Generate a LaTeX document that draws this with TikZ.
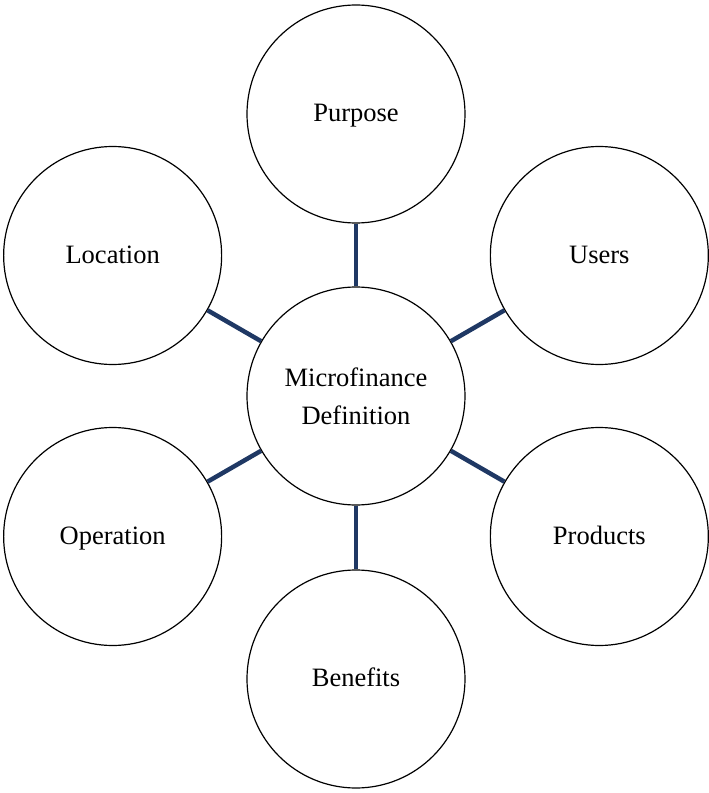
\documentclass[tikz,border=0pt]{standalone}
\usepackage{fontspec}
\setmainfont{Liberation Serif}
\definecolor{linkblue}{RGB}{31,56,100}

\begin{document}
\begin{tikzpicture}[
        bubble/.style={draw, circle, line width=1.2pt, minimum size=218pt,
            inner sep=0pt, align=center, font=\fontsize{26.5}{38}\selectfont},
        topic/.style={bubble, execute at begin node=\strut},
        link/.style={draw=linkblue, line width=4.5pt}
    ]
    \useasboundingbox (-356pt,-397pt) rectangle (353pt,396pt);

    % Hub in the middle
    \node[bubble] (hub) at (0,0) {Microfinance\\Definition};

    % Six topics round the hub
    \node[topic] (purpose)   at (90:282pt)  {Purpose};
    \node[topic] (users)     at (30:281pt)  {Users};
    \node[topic] (products)  at (-30:281pt) {Products};
    \node[topic] (benefits)  at (-90:283pt) {Benefits};
    \node[topic] (operation) at (210:281pt) {Operation};
    \node[topic] (location)  at (150:281pt) {Location};

    % Spokes
    \foreach \t in {purpose, users, products, benefits, operation, location}
        \draw[link] (hub) -- (\t);
\end{tikzpicture}
\end{document}
